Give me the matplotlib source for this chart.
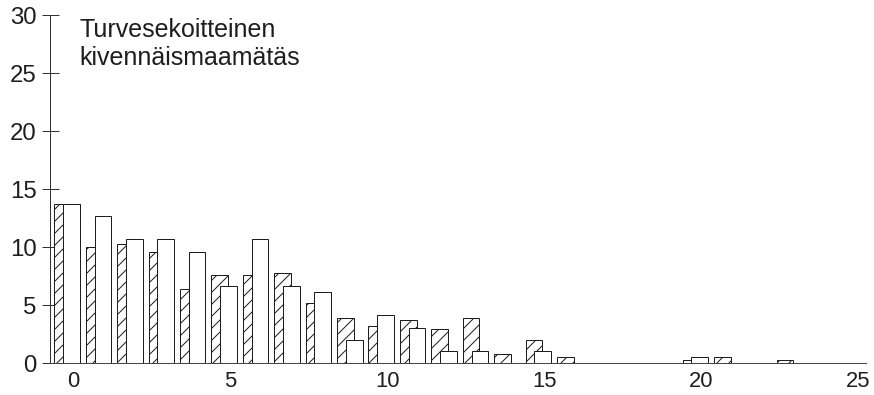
import matplotlib
matplotlib.use("Agg")
import matplotlib.pyplot as plt
import numpy as np

# Osuudet (%) luokittain: viivoitettu = ensimmäinen sarja, valkoinen = toinen
classes = np.arange(24)
hatched_share = [13.7, 10.0, 10.3, 9.6, 6.4, 7.6, 7.6, 7.8, 5.2, 3.9, 3.2, 3.7,
                 2.9, 3.9, 0.8, 2.0, 0.5, 0, 0, 0, 0.25, 0.5, 0, 0.25]
white_share = [13.7, 12.7, 10.7, 10.7, 9.6, 6.6, 10.7, 6.6, 6.1, 2.0, 4.1, 3.0,
               1.0, 1.0, 0, 1.0, 0, 0, 0, 0, 0.5, 0, 0, 0]
x_ticks = [0, 5, 10, 15, 20, 25]
y_ticks = [0, 5, 10, 15, 20, 25, 30]
label_lines = ["Turvesekoitteinen", "kivennäismaamätäs"]

INK = "#1e1e1e"
plt.rcParams["font.family"] = ["Liberation Sans", "DejaVu Sans"]
plt.rcParams["hatch.linewidth"] = 1.0
plt.rcParams["hatch.color"] = INK

W, H, DPI = 874, 395, 72
fig = plt.figure(figsize=(W / DPI, H / DPI), dpi=DPI)
ax = fig.add_axes([50 / W, 1 - 363 / H, (866 - 50) / W, (363 - 15) / H])

bar_w = 0.53
ax.bar(classes - 0.60, hatched_share, width=bar_w, align="edge",
       facecolor="white", edgecolor=INK, linewidth=1.0, hatch="//", zorder=2)
ax.bar(classes - 0.32, white_share, width=bar_w, align="edge",
       facecolor="white", edgecolor=INK, linewidth=1.0, zorder=3)

ax.set_xlim(-0.74, 25.24)
ax.set_ylim(0, 30)
ax.set_xticks(x_ticks)
ax.set_yticks(y_ticks)

for side in ("top", "right"):
    ax.spines[side].set_visible(False)
ax.spines["left"].set_color("#333333")
ax.spines["bottom"].set_color("#444444")
ax.spines["left"].set_linewidth(1.0)
ax.spines["bottom"].set_linewidth(1.0)

ax.tick_params(axis="y", direction="inout", length=17, width=1.0,
               color="#333333", labelsize=24, labelcolor=INK, pad=5)
ax.tick_params(axis="x", length=0, labelsize=22, labelcolor=INK, pad=8)

fig.text(79 / W, 1 - 36.7 / H, label_lines[0], fontsize=25, color=INK,
         va="baseline", ha="left")
fig.text(79 / W, 1 - 65 / H, label_lines[1], fontsize=25, color=INK,
         va="baseline", ha="left")

fig.savefig("out.png", dpi=DPI)
